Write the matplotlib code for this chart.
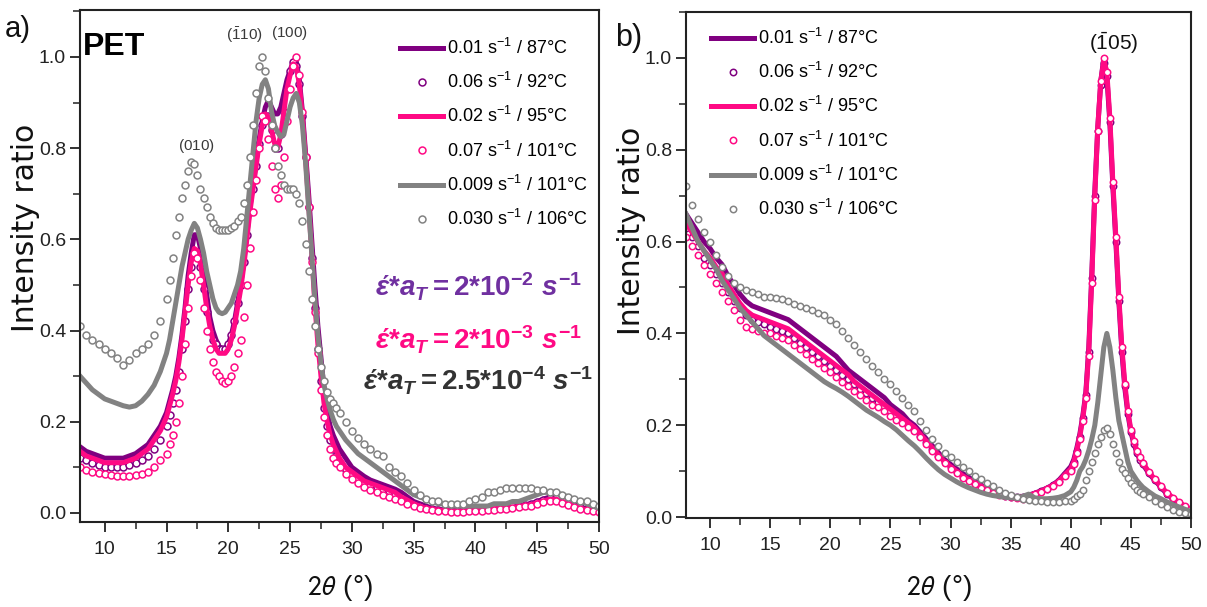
import numpy as np
import matplotlib
matplotlib.use('Agg')
import matplotlib.pyplot as plt
from matplotlib import font_manager as fm
from matplotlib.ticker import MultipleLocator


def has_font(name):
    try:
        fm.findfont(fm.FontProperties(family=name), fallback_to_default=False)
        return True
    except Exception:
        return False


NARROW = 'Liberation Sans Narrow' if has_font('Liberation Sans Narrow') else 'Liberation Sans'

plt.rcParams['font.family'] = [NARROW, 'DejaVu Sans']
plt.rcParams['mathtext.fontset'] = 'custom'
plt.rcParams['mathtext.rm'] = NARROW + ':bold'
plt.rcParams['mathtext.it'] = NARROW + ':bold:italic'
plt.rcParams['mathtext.bf'] = NARROW + ':bold'
plt.rcParams['mathtext.fallback'] = 'stixsans'

# ---------------- data: panel a (PET, 2theta sampling) ----------------
XA = np.concatenate([np.arange(8.0, 15.0, 0.5), np.arange(15.0, 29.0, 0.25), np.arange(29.0, 50.01, 0.5)])

A_P1 = [0.145, 0.135, 0.13, 0.125, 0.12, 0.12, 0.12, 0.12, 0.125, 0.13, 0.14, 0.15, 0.17, 0.19,
        0.22, 0.245, 0.27, 0.30, 0.34, 0.39, 0.45, 0.52, 0.57, 0.61, 0.61, 0.58, 0.53, 0.48, 0.43, 0.40,
        0.38, 0.365, 0.36, 0.36, 0.37, 0.39, 0.42, 0.46, 0.50, 0.55, 0.61, 0.67, 0.72, 0.77, 0.82, 0.86,
        0.89, 0.905, 0.89, 0.875, 0.875, 0.89, 0.92, 0.95, 0.97, 0.99, 0.99, 0.95, 0.88, 0.79, 0.70, 0.60,
        0.50, 0.41, 0.34, 0.27, 0.22, 0.19, 0.17, 0.155,
        0.14, 0.12, 0.10, 0.09, 0.08, 0.072, 0.067, 0.062, 0.057, 0.052,
        0.045, 0.035, 0.025, 0.02, 0.015, 0.01, 0.008, 0.006, 0.005, 0.005,
        0.005, 0.005, 0.006, 0.008, 0.01, 0.01, 0.012, 0.012, 0.014, 0.015,
        0.018, 0.02, 0.025, 0.03, 0.035, 0.035, 0.03, 0.025, 0.018, 0.012,
        0.008, 0.005, 0.003]

A_P2 = [0.12, 0.115, 0.11, 0.105, 0.10, 0.10, 0.10, 0.10, 0.105, 0.11, 0.115, 0.125, 0.14, 0.16,
        0.19, 0.215, 0.24, 0.27, 0.31, 0.36, 0.42, 0.49, 0.54, 0.57, 0.57, 0.54, 0.49, 0.44, 0.40, 0.38,
        0.37, 0.36, 0.36, 0.36, 0.37, 0.39, 0.42, 0.46, 0.50, 0.55, 0.61, 0.66, 0.71, 0.76, 0.81, 0.85,
        0.87, 0.87, 0.84, 0.80, 0.80, 0.83, 0.88, 0.93, 0.97, 0.99, 0.98, 0.94, 0.87, 0.78, 0.67, 0.56,
        0.45, 0.36, 0.29, 0.23, 0.19, 0.16, 0.14, 0.125,
        0.11, 0.095, 0.085, 0.075, 0.068, 0.062, 0.057, 0.052, 0.047, 0.042,
        0.034, 0.027, 0.02, 0.015, 0.011, 0.009, 0.007, 0.006, 0.005, 0.005,
        0.006, 0.006, 0.007, 0.008, 0.01, 0.011, 0.012, 0.013, 0.014, 0.016,
        0.018, 0.02, 0.024, 0.028, 0.032, 0.032, 0.028, 0.022, 0.016, 0.012,
        0.008, 0.006, 0.004]

A_K1 = [0.135, 0.125, 0.12, 0.115, 0.11, 0.11, 0.11, 0.11, 0.115, 0.12, 0.13, 0.14, 0.16, 0.18,
        0.21, 0.235, 0.26, 0.29, 0.33, 0.38, 0.44, 0.50, 0.55, 0.58, 0.575, 0.545, 0.50, 0.45, 0.41, 0.38,
        0.36, 0.35, 0.35, 0.35, 0.36, 0.38, 0.41, 0.45, 0.49, 0.54, 0.60, 0.66, 0.71, 0.76, 0.81, 0.85,
        0.875, 0.87, 0.84, 0.81, 0.80, 0.83, 0.88, 0.93, 0.96, 0.985, 0.98, 0.94, 0.87, 0.78, 0.68, 0.57,
        0.46, 0.37, 0.30, 0.24, 0.20, 0.17, 0.15, 0.135,
        0.12, 0.10, 0.09, 0.08, 0.07, 0.065, 0.06, 0.055, 0.05, 0.045,
        0.035, 0.028, 0.02, 0.015, 0.01, 0.008, 0.006, 0.005, 0.004, 0.004,
        0.004, 0.005, 0.005, 0.006, 0.008, 0.009, 0.01, 0.011, 0.012, 0.014,
        0.016, 0.018, 0.022, 0.026, 0.03, 0.03, 0.026, 0.02, 0.014, 0.01,
        0.006, 0.004, 0.002]

A_K2 = [0.10, 0.095, 0.09, 0.087, 0.085, 0.082, 0.08, 0.08, 0.08, 0.082, 0.085, 0.09, 0.10, 0.115,
        0.13, 0.15, 0.17, 0.20, 0.24, 0.30, 0.37, 0.45, 0.52, 0.57, 0.56, 0.51, 0.45, 0.40, 0.36, 0.33,
        0.31, 0.30, 0.29, 0.285, 0.29, 0.30, 0.32, 0.35, 0.38, 0.43, 0.50, 0.58, 0.66, 0.73, 0.80, 0.87,
        0.86, 0.82, 0.76, 0.71, 0.69, 0.72, 0.78, 0.86, 0.93, 0.98, 1.00, 0.96, 0.88, 0.78, 0.67, 0.55,
        0.44, 0.35, 0.27, 0.21, 0.17, 0.14, 0.12, 0.11,
        0.10, 0.085, 0.075, 0.065, 0.057, 0.05, 0.045, 0.04, 0.035, 0.03,
        0.025, 0.02, 0.015, 0.01, 0.008, 0.006, 0.005, 0.004, 0.003, 0.003,
        0.003, 0.004, 0.005, 0.005, 0.006, 0.007, 0.008, 0.009, 0.01, 0.012,
        0.014, 0.016, 0.02, 0.024, 0.026, 0.026, 0.022, 0.017, 0.012, 0.008,
        0.006, 0.004, 0.003]

A_G1 = [0.30, 0.285, 0.27, 0.26, 0.25, 0.245, 0.24, 0.235, 0.232, 0.235, 0.245, 0.26, 0.28, 0.31,
        0.35, 0.38, 0.42, 0.46, 0.50, 0.54, 0.57, 0.60, 0.62, 0.635, 0.625, 0.60, 0.57, 0.53, 0.50, 0.47,
        0.45, 0.44, 0.437, 0.44, 0.45, 0.46, 0.48, 0.50, 0.53, 0.58, 0.65, 0.72, 0.79, 0.86, 0.91, 0.94,
        0.95, 0.93, 0.88, 0.85, 0.835, 0.825, 0.83, 0.86, 0.89, 0.91, 0.92, 0.90, 0.85, 0.77, 0.67, 0.57,
        0.47, 0.39, 0.33, 0.28, 0.25, 0.225, 0.205, 0.19,
        0.18, 0.16, 0.145, 0.13, 0.12, 0.11, 0.10, 0.09, 0.08, 0.07,
        0.06, 0.05, 0.04, 0.035, 0.03, 0.025, 0.02, 0.02, 0.015, 0.015,
        0.015, 0.015, 0.015, 0.015, 0.015, 0.02, 0.02, 0.02, 0.025, 0.025,
        0.03, 0.035, 0.04, 0.045, 0.045, 0.045, 0.04, 0.035, 0.03, 0.025,
        0.02, 0.015, 0.01]

A_G2 = [0.41, 0.39, 0.38, 0.37, 0.36, 0.35, 0.34, 0.325, 0.335, 0.35, 0.36, 0.37, 0.39, 0.42,
        0.47, 0.51, 0.56, 0.61, 0.65, 0.69, 0.72, 0.75, 0.77, 0.765, 0.74, 0.71, 0.69, 0.67, 0.65, 0.635,
        0.625, 0.62, 0.62, 0.62, 0.62, 0.625, 0.63, 0.64, 0.65, 0.68, 0.72, 0.78, 0.85, 0.92, 0.98, 1.00,
        0.97, 0.91, 0.85, 0.80, 0.76, 0.74, 0.72, 0.71, 0.71, 0.71, 0.70, 0.68, 0.64, 0.59, 0.53, 0.47,
        0.41, 0.36, 0.32, 0.29, 0.265, 0.25, 0.24, 0.23,
        0.22, 0.20, 0.18, 0.165, 0.15, 0.14, 0.13, 0.125, 0.10, 0.09,
        0.08, 0.065, 0.05, 0.04, 0.03, 0.025, 0.025, 0.02, 0.02, 0.02,
        0.02, 0.025, 0.03, 0.035, 0.045, 0.045, 0.05, 0.055, 0.055, 0.055,
        0.055, 0.055, 0.05, 0.05, 0.045, 0.045, 0.04, 0.035, 0.03, 0.025,
        0.025, 0.02, 0.015]

# ---------------- data: panel b ----------------
XB = np.concatenate([np.arange(8.0, 40.0, 0.5), np.arange(40.0, 46.01, 0.25), np.arange(46.5, 50.01, 0.5)])

B_P1 = [0.66, 0.64, 0.62, 0.60, 0.585, 0.565, 0.55, 0.525, 0.505, 0.485, 0.47, 0.46, 0.455, 0.45, 0.445, 0.44,
        0.435, 0.43, 0.42, 0.41, 0.40, 0.39, 0.38, 0.37, 0.36, 0.35, 0.335, 0.32, 0.31, 0.30, 0.29, 0.28,
        0.27, 0.26, 0.245, 0.235, 0.225, 0.21, 0.20, 0.185, 0.17, 0.155, 0.14, 0.125, 0.115, 0.105, 0.095, 0.087,
        0.078, 0.07, 0.063, 0.057, 0.052, 0.048, 0.046, 0.045, 0.045, 0.048, 0.052, 0.057, 0.063, 0.07, 0.08, 0.095,
        0.11, 0.125, 0.15, 0.18, 0.22, 0.27, 0.37, 0.53, 0.71, 0.85, 0.95, 1.00, 0.96, 0.86, 0.72, 0.60,
        0.47, 0.36, 0.28, 0.225, 0.185, 0.16, 0.14, 0.125, 0.115,
        0.095, 0.08, 0.065, 0.05, 0.04, 0.03, 0.022, 0.015]

B_P2 = [0.63, 0.61, 0.59, 0.565, 0.55, 0.53, 0.51, 0.49, 0.47, 0.455, 0.44, 0.43, 0.425, 0.42, 0.415, 0.41,
        0.405, 0.40, 0.39, 0.38, 0.37, 0.36, 0.35, 0.34, 0.33, 0.32, 0.31, 0.30, 0.29, 0.28, 0.27, 0.26,
        0.25, 0.24, 0.23, 0.22, 0.21, 0.20, 0.19, 0.177, 0.163, 0.148, 0.133, 0.12, 0.108, 0.098, 0.088, 0.08,
        0.073, 0.066, 0.06, 0.054, 0.05, 0.046, 0.044, 0.043, 0.044, 0.047, 0.051, 0.056, 0.062, 0.069, 0.078, 0.092,
        0.105, 0.12, 0.145, 0.175, 0.215, 0.265, 0.36, 0.52, 0.70, 0.84, 0.94, 0.99, 0.96, 0.86, 0.72, 0.60,
        0.47, 0.36, 0.285, 0.225, 0.185, 0.16, 0.14, 0.125, 0.115,
        0.095, 0.08, 0.065, 0.05, 0.04, 0.03, 0.022, 0.015]

B_K1 = [0.64, 0.62, 0.60, 0.58, 0.565, 0.545, 0.53, 0.505, 0.485, 0.465, 0.45, 0.44, 0.435, 0.43, 0.425, 0.42,
        0.415, 0.41, 0.40, 0.39, 0.38, 0.37, 0.36, 0.35, 0.34, 0.33, 0.32, 0.31, 0.295, 0.285, 0.275, 0.265,
        0.255, 0.245, 0.235, 0.225, 0.215, 0.205, 0.195, 0.18, 0.165, 0.15, 0.135, 0.12, 0.11, 0.10, 0.09, 0.082,
        0.075, 0.068, 0.061, 0.055, 0.05, 0.046, 0.044, 0.043, 0.044, 0.047, 0.051, 0.056, 0.062, 0.069, 0.078, 0.092,
        0.105, 0.12, 0.145, 0.175, 0.215, 0.265, 0.36, 0.52, 0.70, 0.85, 0.95, 0.995, 0.97, 0.87, 0.73, 0.61,
        0.48, 0.37, 0.29, 0.23, 0.19, 0.165, 0.145, 0.13, 0.118,
        0.098, 0.082, 0.067, 0.053, 0.042, 0.032, 0.024, 0.017]

B_K2 = [0.61, 0.59, 0.57, 0.55, 0.53, 0.51, 0.49, 0.47, 0.45, 0.43, 0.415, 0.41, 0.405, 0.40, 0.40, 0.395,
        0.39, 0.385, 0.375, 0.365, 0.355, 0.345, 0.335, 0.325, 0.315, 0.305, 0.295, 0.285, 0.275, 0.265, 0.255, 0.245,
        0.24, 0.23, 0.22, 0.212, 0.205, 0.197, 0.188, 0.175, 0.16, 0.145, 0.13, 0.117, 0.105, 0.095, 0.086, 0.078,
        0.071, 0.064, 0.058, 0.052, 0.048, 0.045, 0.043, 0.042, 0.04, 0.044, 0.05, 0.055, 0.061, 0.068, 0.077, 0.09,
        0.10, 0.115, 0.14, 0.17, 0.21, 0.26, 0.35, 0.51, 0.69, 0.84, 0.95, 1.00, 0.97, 0.87, 0.73, 0.61,
        0.48, 0.37, 0.29, 0.23, 0.19, 0.165, 0.145, 0.13, 0.118,
        0.098, 0.082, 0.067, 0.053, 0.042, 0.032, 0.024, 0.017]

B_G1 = [0.66, 0.63, 0.60, 0.58, 0.56, 0.54, 0.515, 0.495, 0.475, 0.455, 0.44, 0.425, 0.41, 0.395, 0.385, 0.375,
        0.365, 0.355, 0.345, 0.335, 0.325, 0.315, 0.305, 0.295, 0.287, 0.28, 0.272, 0.263, 0.253, 0.243, 0.233, 0.225,
        0.217, 0.208, 0.20, 0.19, 0.178, 0.166, 0.155, 0.142, 0.128, 0.115, 0.103, 0.093, 0.085, 0.077, 0.07, 0.064,
        0.059, 0.054, 0.05, 0.047, 0.045, 0.043, 0.042, 0.041, 0.045, 0.05, 0.042, 0.04, 0.04, 0.041, 0.043, 0.047,
        0.055, 0.065, 0.08, 0.10, 0.11, 0.125, 0.145, 0.17, 0.20, 0.25, 0.31, 0.37, 0.40, 0.37, 0.32, 0.26,
        0.21, 0.18, 0.15, 0.12, 0.10, 0.09, 0.08, 0.072, 0.065,
        0.055, 0.046, 0.04, 0.033, 0.027, 0.022, 0.017, 0.012]

B_G2 = [0.72, 0.68, 0.65, 0.62, 0.60, 0.57, 0.545, 0.525, 0.51, 0.50, 0.495, 0.49, 0.485, 0.48, 0.48, 0.478,
        0.475, 0.47, 0.465, 0.46, 0.455, 0.45, 0.445, 0.44, 0.43, 0.42, 0.405, 0.39, 0.375, 0.36, 0.345, 0.33,
        0.315, 0.30, 0.29, 0.275, 0.26, 0.245, 0.23, 0.21, 0.19, 0.17, 0.155, 0.14, 0.13, 0.12, 0.11, 0.10,
        0.09, 0.083, 0.075, 0.068, 0.06, 0.053, 0.048, 0.044, 0.04, 0.037, 0.035, 0.034, 0.033, 0.033, 0.033, 0.034,
        0.036, 0.04, 0.045, 0.05, 0.06, 0.08, 0.10, 0.12, 0.14, 0.16, 0.175, 0.19, 0.195, 0.18, 0.16, 0.14,
        0.12, 0.105, 0.095, 0.085, 0.075, 0.068, 0.06, 0.055, 0.05,
        0.043, 0.035, 0.028, 0.022, 0.016, 0.012, 0.008, 0.006]

LABELS = [r'0.01 s$^{\mathregular{-1}}$ / 87°C',
          r'0.06 s$^{\mathregular{-1}}$ / 92°C',
          r'0.02 s$^{\mathregular{-1}}$ / 95°C',
          r'0.07 s$^{\mathregular{-1}}$ / 101°C',
          r'0.009 s$^{\mathregular{-1}}$ / 101°C',
          r'0.030 s$^{\mathregular{-1}}$ / 106°C']
KINDS = ['line', 'marker', 'line', 'marker', 'line', 'marker']
COLORS = ['#800080', '#800080', '#FF0A84', '#FF0A84', '#828282', '#828282']

SERIES_A = [A_P1, A_P2, A_K1, A_K2, A_G1, A_G2]
SERIES_B = [B_P1, B_P2, B_K1, B_K2, B_G1, B_G2]

PEAKS_A = [(r'$\mathregular{(010)}$', 17.45, 0.805),
           (r'$\mathregular{(\bar{1}10)}$', 21.3, 1.048),
           (r'$\mathregular{(100)}$', 24.95, 1.053)]
PEAK_B = (r'$\mathregular{(\bar{1}05)}$', 43.6, 1.033)

RATES = [(r'$έ{*}a_T = 2{*}10^{-2}\ s^{-1}$', '#7030A0'),
         (r'$έ{*}a_T = 2{*}10^{-3}\ s^{-1}$', '#FF0A84'),
         (r'$έ{*}a_T = 2.5{*}10^{-4}\ s^{-1}$', '#333333')]

# ---------------- figure ----------------
W, H = 1207, 607
fig = plt.figure(figsize=(W / 100, H / 100), dpi=100)
axA = fig.add_axes([80 / W, 1 - 522 / H, (599 - 80) / W, (522 - 10) / H])
axB = fig.add_axes([686 / W, 1 - 518 / H, (1191 - 686) / W, (518 - 12) / H])


def draw(ax, x, series, msize):
    handles = []
    for y, kind, col, lab in zip(series, KINDS, COLORS, LABELS):
        if kind == 'line':
            h, = ax.plot(x, y, color=col, lw=3.6, solid_joinstyle='round', label=lab)
        else:
            h, = ax.plot(x, y, ls='none', marker='o', ms=msize, mfc='white', mec=col, mew=1.1, label=lab)
        handles.append(h)
    return handles


def style(ax, ylim):
    ax.set_xlim(8, 50)
    ax.set_ylim(*ylim)
    ax.xaxis.set_major_locator(MultipleLocator(5))
    ax.xaxis.set_minor_locator(MultipleLocator(2.5))
    ax.yaxis.set_major_locator(MultipleLocator(0.2))
    ax.yaxis.set_minor_locator(MultipleLocator(0.1))
    ax.tick_params(which='both', direction='out', top=False, right=False,
                   colors='#222222', labelsize=14)
    ax.tick_params(which='major', length=7, width=1.3)
    ax.tick_params(which='minor', length=5, width=1.1)
    ax.tick_params(axis='x', pad=7)
    ax.tick_params(axis='y', pad=3)
    for s in ax.spines.values():
        s.set_linewidth(1.5)
        s.set_color('#222222')
    ax.set_ylabel('Intensity ratio', fontsize=21.5, family='DejaVu Sans', color='#111111')
    ax.set_xlabel(r'$\mathit{2}\theta$ (°)', fontsize=20, math_fontfamily='stixsans', color='#111111')


hA = draw(axA, XA, SERIES_A, 5.0)
hB = draw(axB, XB, SERIES_B, 4.6)
style(axA, (-0.020, 1.103))
style(axB, (-0.002, 1.100))
axA.yaxis.set_label_coords(-0.078, 0.574)
axB.yaxis.set_label_coords(-0.080, 0.567)
axA.xaxis.set_label_coords(0.5, -0.100)
axB.xaxis.set_label_coords(0.5, -0.108)

leg_kw = dict(loc='upper left', bbox_transform=fig.transFigure, frameon=False, fontsize=13,
              handlelength=2.4, handletextpad=0.22, labelspacing=0.78, borderpad=0,
              borderaxespad=0)
axA.legend(hA, LABELS, bbox_to_anchor=(400 / W, 1 - 38 / H), **leg_kw)
axB.legend(hB, LABELS, bbox_to_anchor=(711 / W, 1 - 28 / H), **leg_kw)

for txt, xx, yy in PEAKS_A:
    axA.text(xx, yy, txt, ha='center', va='center', fontsize=11, color='#3a3a3a')
axB.text(PEAK_B[1], PEAK_B[2], PEAK_B[0], ha='center', va='center', fontsize=15, color='#111111')

for (txt, col), yy in zip(RATES, [0.459, 0.355, 0.275]):
    axA.text(0.767, yy, txt, transform=axA.transAxes, ha='center', va='center',
             fontsize=20, color=col)

axA.text(0.0655, 0.928, 'PET', transform=axA.transAxes, ha='center', va='center',
         fontsize=23, fontweight='bold', color='black')
fig.text(18 / W, 1 - 29 / H, 'a)', ha='center', va='center', fontsize=21, color='#111111')
fig.text(629 / W, 1 - 38 / H, 'b)', ha='center', va='center', fontsize=22, color='#111111')

fig.savefig('out.png', dpi=100)
